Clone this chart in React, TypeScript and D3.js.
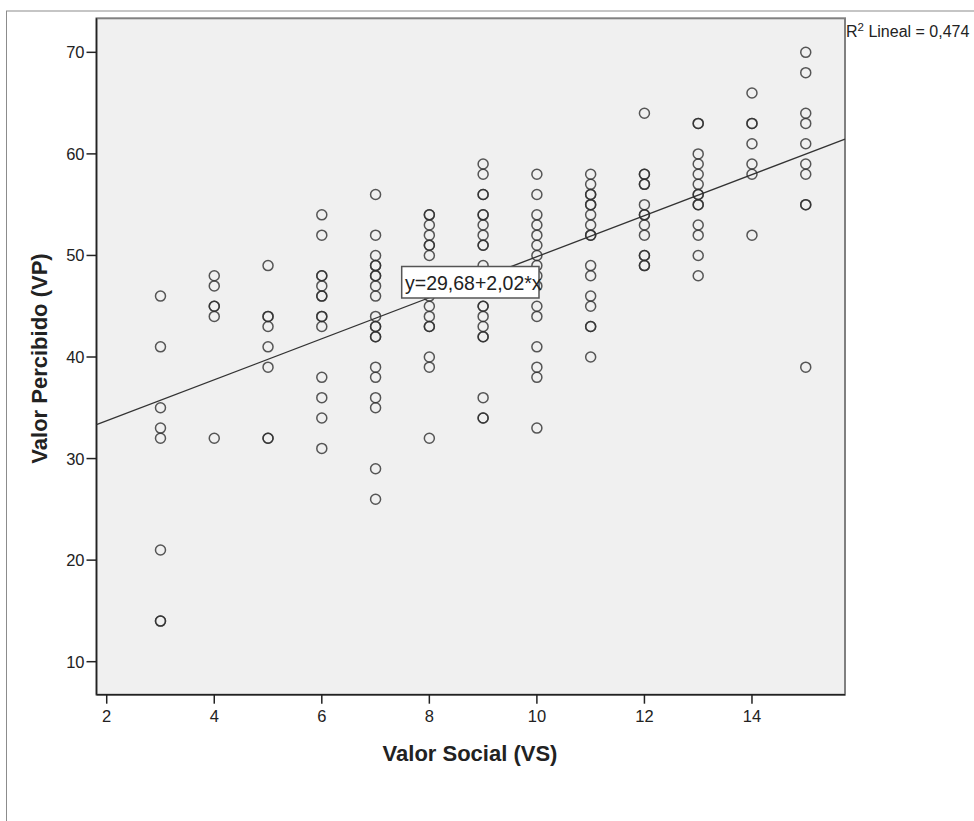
import React from "react";
import * as d3 from "d3";

// ---- data ----
const vsLevels = [3, 4, 5, 6, 7, 8, 9, 10, 11, 12, 13, 14, 15];
const vpByLevel: number[][] = [
  [46, 41, 35, 33, 32, 21, 14, 14],
  [48, 47, 45, 45, 44, 32],
  [49, 44, 44, 43, 41, 39, 32, 32],
  [54, 52, 48, 48, 47, 46, 46, 44, 44, 43, 38, 36, 34, 31],
  [56, 52, 50, 49, 49, 48, 48, 47, 46, 44, 43, 43, 42, 42, 39, 38, 36, 35, 29, 26],
  [54, 54, 53, 52, 51, 51, 50, 48, 46, 45, 44, 43, 43, 40, 39, 32],
  [59, 58, 56, 56, 54, 54, 53, 52, 51, 51, 49, 47, 45, 45, 44, 43, 42, 42, 36, 34, 34],
  [58, 56, 54, 53, 52, 51, 50, 49, 48, 47, 45, 44, 41, 39, 38, 33],
  [58, 57, 56, 56, 55, 55, 54, 53, 52, 52, 49, 48, 46, 45, 43, 43, 40],
  [64, 58, 58, 57, 57, 55, 54, 54, 53, 52, 50, 50, 49, 49],
  [63, 63, 60, 59, 58, 57, 56, 56, 55, 55, 53, 52, 50, 48],
  [66, 63, 63, 61, 59, 58, 52],
  [70, 68, 64, 63, 61, 59, 58, 55, 55, 39],
];
const xTicks = [2, 4, 6, 8, 10, 12, 14];
const yTicks = [10, 20, 30, 40, 50, 60, 70];
const fitIntercept = 29.68;
const fitSlope = 2.02;
const equationText = "y=29,68+2,02*x";
const r2Value = "0,474";
const xTitle = "Valor Social (VS)";
const yTitle = "Valor Percibido (VP)";

const points = vsLevels.flatMap((vs, i) => vpByLevel[i].map((vp) => ({ vs, vp })));

export default function App() {
  const W = 974, H = 821;
  const left = 96.5, right = 845, top = 18.3, bottom = 694.7;
  const x = d3.scaleLinear().domain([1.81, 15.73]).range([left, right]);
  const y = d3.scaleLinear().domain([6.75, 73.35]).range([bottom, top]);
  const [d0, d1] = x.domain();
  const line = d3.line<number>()
    .x((d) => x(d))
    .y((d) => y(fitIntercept + fitSlope * d));
  const font = "'Liberation Sans', Arial, sans-serif";
  return (
    <svg width={W} height={H} style={{ position: "absolute", left: 0, top: 0, display: "block" }} fontFamily={font}>
      <rect x={0} y={0} width={W} height={H} fill="#fff" />
      <rect x={6.5} y={11} width={W + 10} height={H + 10} fill="none" stroke="#8c8c8c" strokeWidth={1} />
      <rect x={left} y={top} width={right - left} height={bottom - top} fill="#f0f0f0" stroke="#808080" strokeWidth={2} />
      <line x1={left} x2={left} y1={top} y2={bottom} stroke="#222" strokeWidth={1.5} />
      <line x1={left} x2={right} y1={bottom} y2={bottom} stroke="#222" strokeWidth={1.5} />
      {yTicks.map((t) => (
        <g key={"y" + t}>
          <line x1={left - 10} x2={left} y1={y(t)} y2={y(t)} stroke="#222" strokeWidth={1.5} />
          <text x={left - 12} y={y(t)} dy="0.36em" textAnchor="end" fontSize={16.5} fill="#222">{t}</text>
        </g>
      ))}
      {xTicks.map((t) => (
        <g key={"x" + t}>
          <line x1={x(t)} x2={x(t)} y1={bottom} y2={bottom + 9} stroke="#222" strokeWidth={1.5} />
          <text x={x(t)} y={722} textAnchor="middle" fontSize={16.5} fill="#222">{t}</text>
        </g>
      ))}
      <text x={470} y={761} textAnchor="middle" fontSize={22} fontWeight="bold" fill="#222">{xTitle}</text>
      <text transform={`translate(47,${(top + bottom) / 2 + 2}) rotate(-90)`} textAnchor="middle" fontSize={22} fontWeight="bold" fill="#222">{yTitle}</text>
      <path d={line([d0, d1]) || ""} fill="none" stroke="#333" strokeWidth={1.3} />
      {points.map((p, i) => (
        <circle key={i} cx={x(p.vs)} cy={y(p.vp)} r={5} fill="none" stroke="#2e2e2e" strokeWidth={1.5} strokeOpacity={0.8} />
      ))}
      <rect x={401.7} y={266.5} width={137.3} height={31.5} fill="#fff" stroke="#555" strokeWidth={1.5} />
      <text x={405} y={290} fontSize={19.5} fill="#222">{equationText}</text>
      <text x={846} y={37} fontSize={16} fill="#222">
        R<tspan dy={-6} fontSize={11.5}>2</tspan><tspan dy={6}>{" Lineal = " + r2Value}</tspan>
      </text>
    </svg>
  );
}
